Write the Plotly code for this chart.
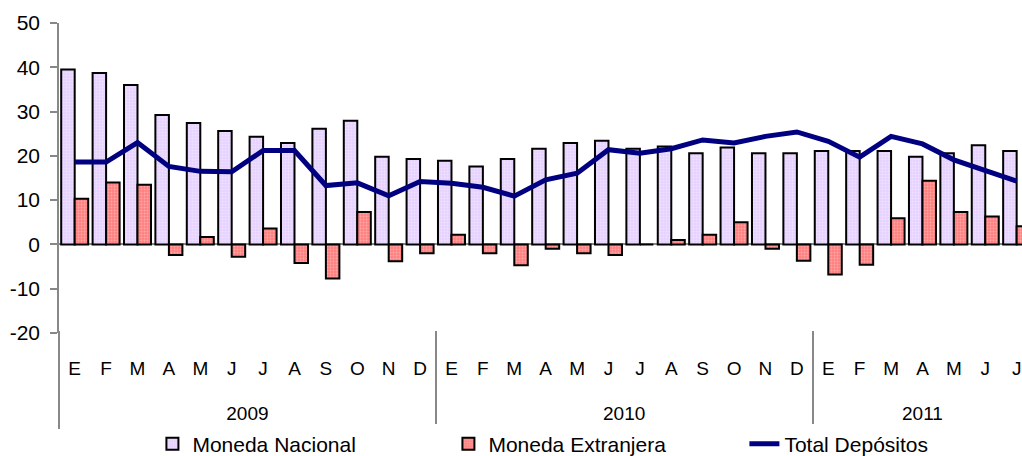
import plotly.graph_objects as go

# Monthly labels (E=enero ... D=diciembre) grouped by year
years = ["2009"] * 12 + ["2010"] * 12 + ["2011"] * 7
months = ["E", "F", "M", "A", "M", "J", "J", "A", "S", "O", "N", "D"] * 2 + ["E", "F", "M", "A", "M", "J", "J"]

moneda_nacional = [
    39.5, 38.7, 36.0, 29.2, 27.4, 25.6, 24.3, 22.9, 26.1, 27.9, 19.8, 19.3,
    18.9, 17.6, 19.3, 21.6, 22.9, 23.4, 21.6, 22.1, 20.6, 21.9, 20.6, 20.6,
    21.1, 21.1, 21.1, 19.8, 20.6, 22.4, 21.1,
]
moneda_extranjera = [
    10.3, 14.0, 13.5, -2.4, 1.7, -2.8, 3.6, -4.2, -7.7, 7.3, -3.8, -2.0,
    2.2, -2.0, -4.7, -1.0, -2.0, -2.4, 0.0, 1.0, 2.2, 5.0, -1.0, -3.7,
    -6.8, -4.6, 5.9, 14.4, 7.3, 6.3, 4.1,
]
total_depositos = [
    18.6, 18.6, 23.0, 17.6, 16.5, 16.4, 21.2, 21.2, 13.3, 13.9, 11.0, 14.2,
    13.8, 12.9, 10.9, 14.6, 16.1, 21.4, 20.6, 21.6, 23.6, 22.9, 24.4, 25.4,
    23.3, 19.7, 24.4, 22.7, 19.1, 16.7, 14.3,
]
y_ticks = [-20, -10, 0, 10, 20, 30, 40, 50]

idx = list(range(len(months)))
year_names = list(dict.fromkeys(years))
year_first = [years.index(y) for y in year_names]
year_last = [len(years) - 1 - years[::-1].index(y) for y in year_names]
year_mid = [(a + b) / 2 for a, b in zip(year_first, year_last)]
year_bounds = [a - 0.5 for a in year_first]

font = "Liberation Sans, Arial, sans-serif"
# last month is only partly visible, as in the original
xrange = [-0.5, 30.17]

fig = go.Figure()
fig.add_trace(go.Bar(
    x=idx, y=moneda_nacional, name="Moneda Nacional",
    marker=dict(color="#E6D2FF", line=dict(color="black", width=2),
                pattern=dict(shape=".", fgcolor="#F8F0FF", size=3, solidity=0.3)),
))
fig.add_trace(go.Bar(
    x=idx, y=moneda_extranjera, name="Moneda Extranjera",
    marker=dict(color="#FF8080", line=dict(color="black", width=2),
                pattern=dict(shape=".", fgcolor="#FFD0D0", size=3, solidity=0.3)),
))
# the line sits on the year axis (same range) so that axis gets drawn
fig.add_trace(go.Scatter(
    x=idx, y=total_depositos, name="Total Depósitos", mode="lines",
    line=dict(color="#000080", width=5), xaxis="x2",
))

H = 456
paper_h = H - 23

def py(pix):
    # pixel row -> paper fraction
    return (H - pix) / paper_h

fig.update_layout(
    width=1022, height=H,
    margin=dict(l=59, r=0, t=23, b=0, autoexpand=False),
    plot_bgcolor="white", paper_bgcolor="white",
    font=dict(family=font, size=19, color="black"),
    barmode="group", bargap=0.14, bargroupgap=0,
    showlegend=True,
    legend=dict(orientation="h", x=0.097, xanchor="left", y=py(444), yanchor="middle",
                entrywidth=251, entrywidthmode="pixels", font=dict(size=21),
                traceorder="normal"),
    xaxis=dict(range=xrange, tickmode="array", tickvals=idx, ticktext=months,
               showline=False, showgrid=False, zeroline=False, ticks="",
               ticklabelstandoff=22, ticklabeloverflow="allow", tickfont=dict(size=19)),
    xaxis2=dict(overlaying="x", anchor="free", position=py(330), side="bottom",
                range=xrange, tickmode="array", tickvals=year_mid, ticktext=year_names,
                showline=False, showgrid=False, zeroline=False, ticks="",
                ticklabelstandoff=70, tickfont=dict(size=19),
                minor=dict(tickmode="array", tickvals=year_bounds, ticks="outside",
                           ticklen=98, tickwidth=1.5, tickcolor="#888888", showgrid=False)),
    yaxis=dict(domain=[py(333), 1], range=[-20, 50], tickmode="array",
               tickvals=y_ticks, ticktext=[str(v) for v in y_ticks], showgrid=False,
               showline=True, linecolor="#888888", linewidth=1.5,
               ticks="outside", ticklen=7, tickcolor="#888888", tickwidth=1.5,
               zeroline=True, zerolinecolor="#888888", zerolinewidth=1.5,
               ticklabelstandoff=6, tickfont=dict(size=21)),
)

fig.write_html("out.html", config={"displayModeBar": False},
               post_script="document.body.style.margin = '0';")
